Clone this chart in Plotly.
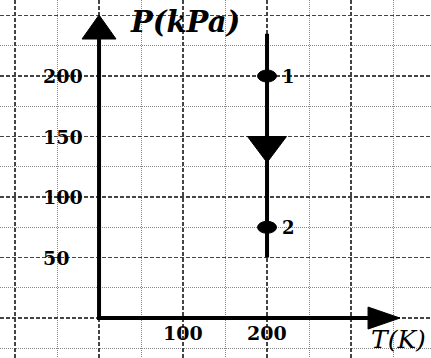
import plotly.graph_objects as go

# ---- data ----
process_T = [200, 200]          # isothermal process line T (K)
process_P = [235, 50]           # line extent P (kPa)
state_T = [200, 200]
state_P = [200, 75]
state_labels = ["1", "2"]
arrow_T = 200                   # direction arrow on process
arrow_P = 150
x_ticks = [100, 200]
x_tick_labels = ["100", "200"]
y_ticks = [50, 100, 150, 200]
y_tick_labels = ["50", "100", "150", "200"]

# ---- layout params ----
X_RANGE = [-117.9, 395.2]
Y_RANGE = [-33.0, 262.8]
W, H = 431, 358
kx = (X_RANGE[1] - X_RANGE[0]) / W   # data per px
ky = (Y_RANGE[1] - Y_RANGE[0]) / H

fig = go.Figure()

# process line
fig.add_trace(go.Scatter(x=process_T, y=process_P, mode="lines",
                         line=dict(color="black", width=4), hoverinfo="skip"))

shapes = []
# axes
ytip = Y_RANGE[1] - 15 * ky
ybase = ytip - 24 * ky
shapes.append(dict(type="line", x0=0, y0=-2 * ky, x1=0, y1=ybase + 2 * ky,
                   line=dict(color="black", width=4)))
xtip = 0 + 301 * kx
xbase = xtip - 32 * kx
shapes.append(dict(type="line", x0=-2 * kx, y0=0, x1=xbase + 2 * kx, y1=0, line=dict(color="black", width=4)))
# axis arrow heads
shapes.append(dict(type="path", path=f"M {-17*kx},{ybase} L {17*kx},{ybase} L 0,{ytip} Z",
                   fillcolor="black", line=dict(color="black", width=1)))
shapes.append(dict(type="path", path=f"M {xbase},{11*ky} L {xbase},{-11*ky} L {xtip},0 Z",
                   fillcolor="black", line=dict(color="black", width=1)))
# direction arrow on process (pointing down)
shapes.append(dict(type="path",
                   path=f"M {arrow_T-19.5*kx},{arrow_P} L {arrow_T+19.5*kx},{arrow_P} L {arrow_T},{arrow_P-26*ky} Z",
                   fillcolor="black", line=dict(color="black", width=1)))
# state points (ellipses)
for t, p in zip(state_T, state_P):
    shapes.append(dict(type="circle", x0=t - 9.5 * kx, x1=t + 9.5 * kx, y0=p - 6 * ky, y1=p + 6 * ky,
                       fillcolor="black", line=dict(color="black", width=1)))

annotations = []
tick_font = dict(family="DejaVu Serif", size=19, color="black")
for v, lab in zip(y_ticks, y_tick_labels):
    annotations.append(dict(x=-69, y=v, text=f"<b>{lab}</b>", showarrow=False,
                            xanchor="left", yanchor="middle", font=tick_font))
for v, lab in zip(x_ticks, x_tick_labels):
    annotations.append(dict(x=v, y=-12.5, text=f"<b>{lab}</b>", showarrow=False,
                            xanchor="center", yanchor="middle", font=tick_font))
for t, p, lab in zip(state_T, state_P, state_labels):
    annotations.append(dict(x=t + 13 * kx, y=p, text=f"<b>{lab}</b>", showarrow=False,
                            xanchor="left", yanchor="middle",
                            font=dict(family="DejaVu Serif", size=18, color="black")))
annotations.append(dict(x=102.4, y=244.6, text="<b><i>P(kPa)</i></b>", showarrow=False,
                        xanchor="center", yanchor="middle",
                        font=dict(family="DejaVu Serif", size=29, color="black")))
annotations.append(dict(x=357, y=-17.4, text="<i>T(K)</i>", showarrow=False,
                        xanchor="center", yanchor="middle",
                        font=dict(family="DejaVu Serif", size=25, color="black")))

axis_common = dict(showticklabels=False, zeroline=False, showline=False, ticks="",
                   gridcolor="#444", gridwidth=1.3, griddash="4px,2px", fixedrange=True)
fig.update_layout(
    width=W, height=H, margin=dict(l=0, r=0, t=0, b=0),
    paper_bgcolor="white", plot_bgcolor="white", showlegend=False,
    xaxis=dict(range=X_RANGE, dtick=100, tick0=0,
               minor=dict(dtick=50, tick0=0, showgrid=True, gridcolor="#888", griddash="1px,1px", gridwidth=1),
               **axis_common),
    yaxis=dict(range=Y_RANGE, dtick=50, tick0=0,
               minor=dict(dtick=25, tick0=0, showgrid=True, gridcolor="#888", griddash="1px,1px", gridwidth=1),
               **axis_common),
    shapes=shapes, annotations=annotations,
)
fig.write_html("out.html", config={"displayModeBar": False, "staticPlot": True},
               post_script="document.body.style.margin='0px';document.body.style.overflow='hidden';")
